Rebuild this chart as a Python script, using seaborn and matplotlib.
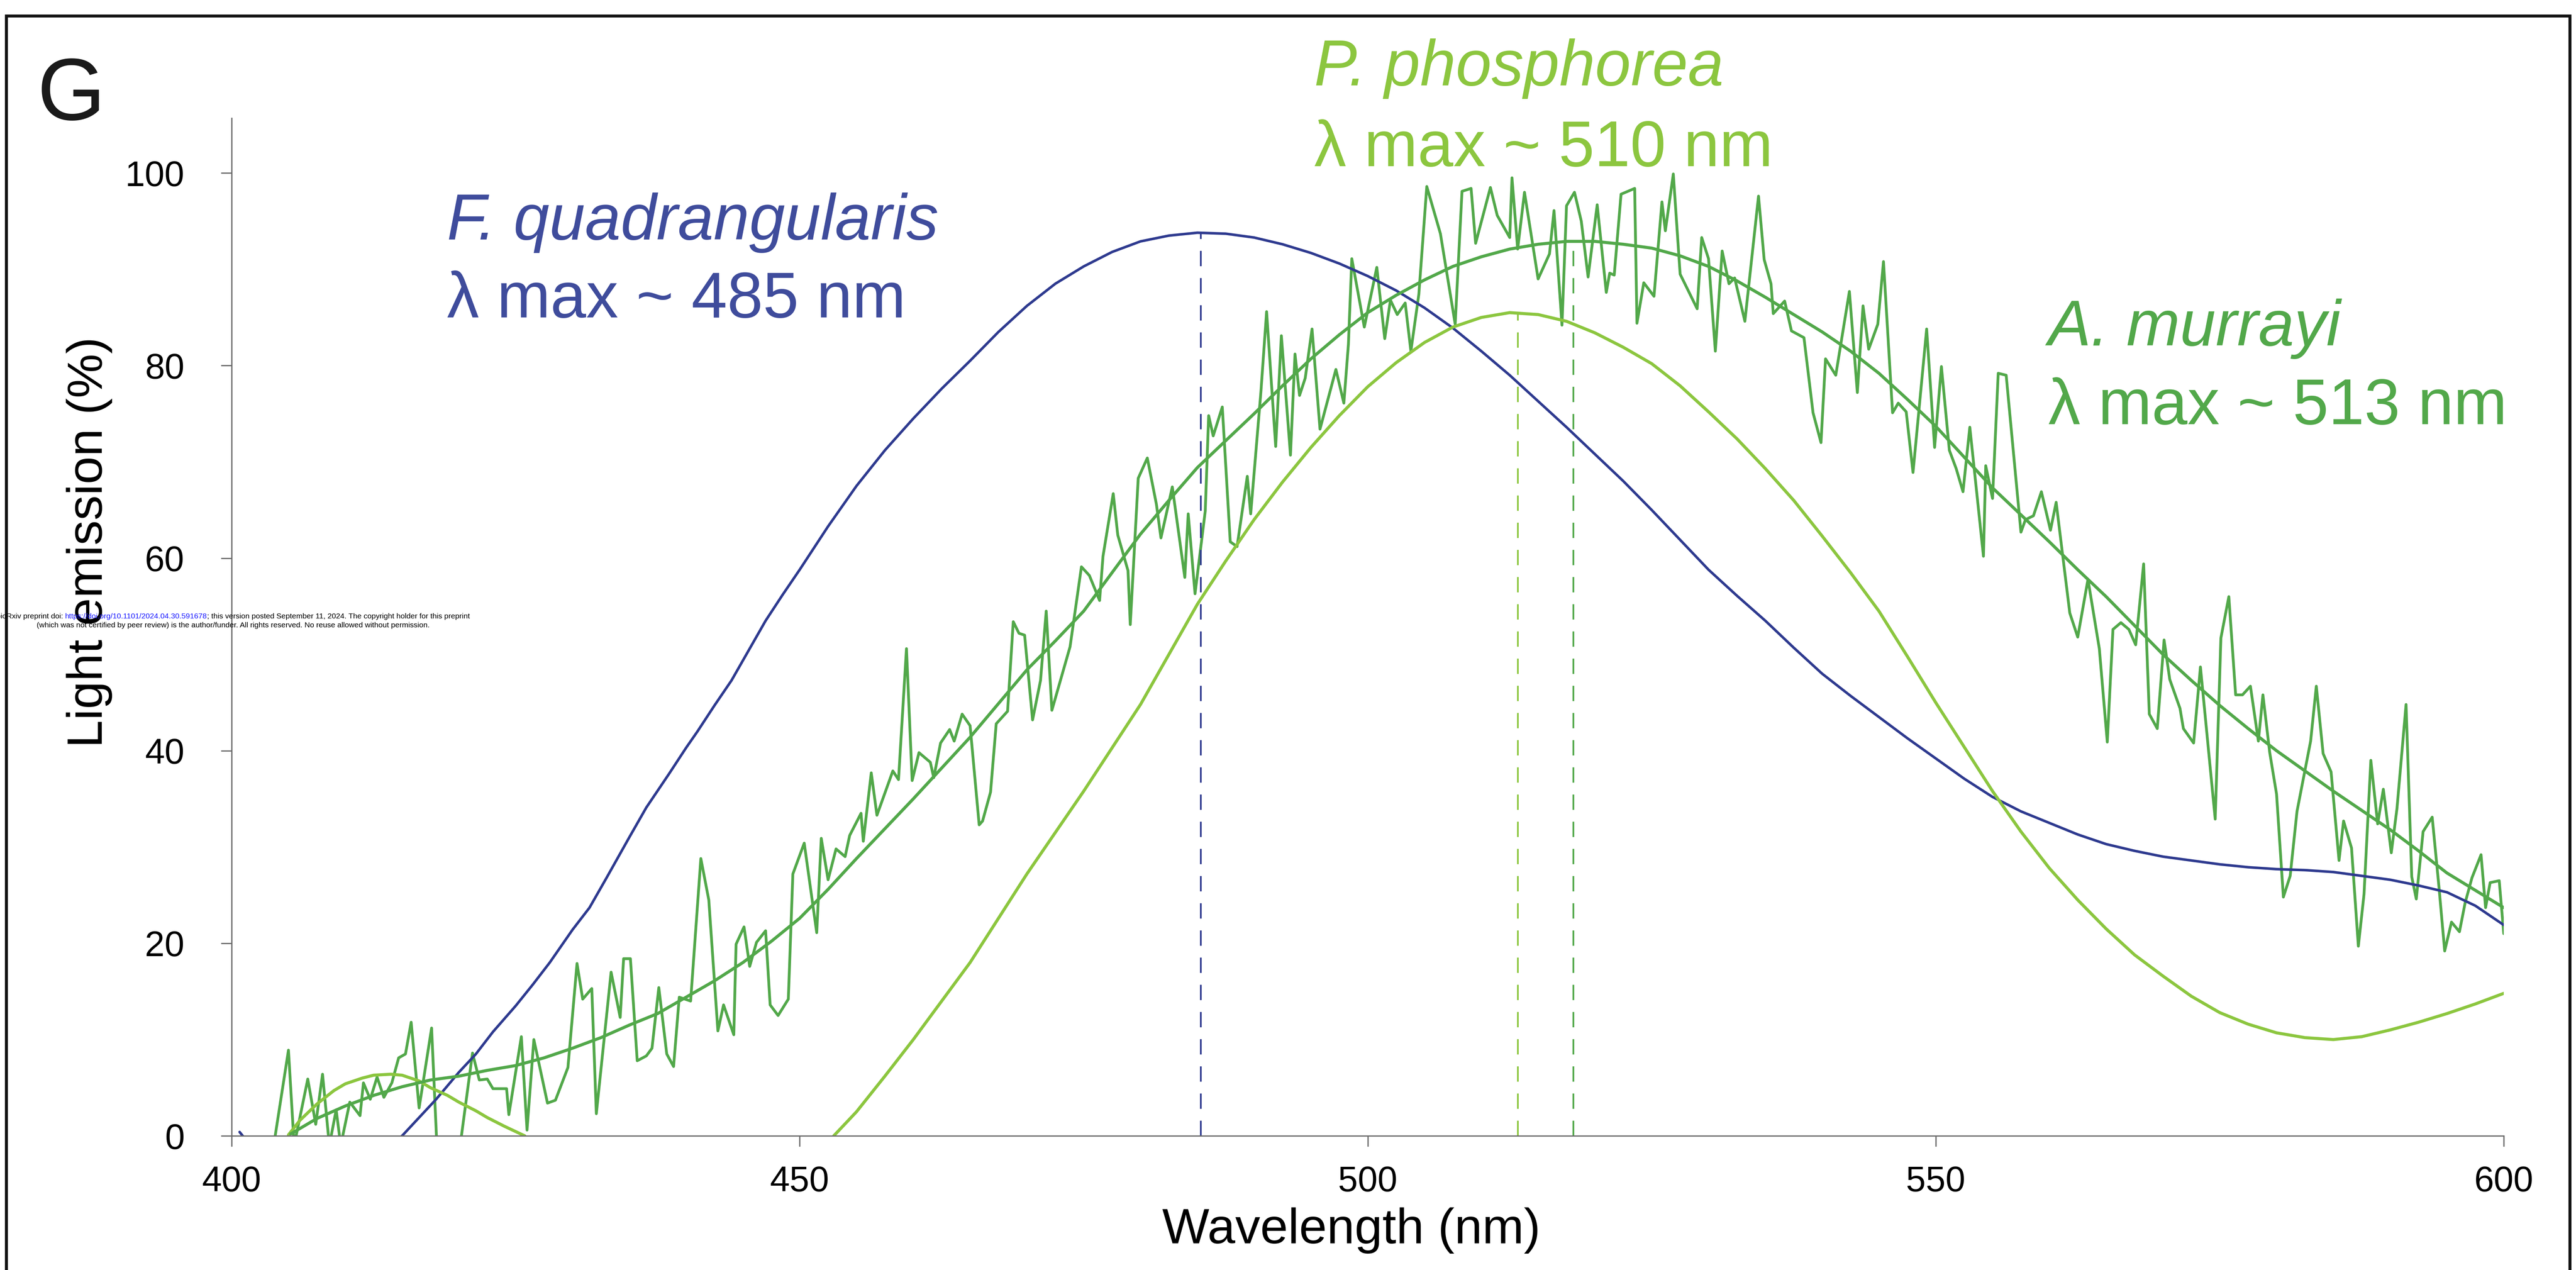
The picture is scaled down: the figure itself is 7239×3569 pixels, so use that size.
import matplotlib
matplotlib.use("Agg")
import matplotlib.pyplot as plt
from matplotlib.patches import Rectangle
import pandas as pd
import seaborn as sns

# ---------------- data ----------------
# A. murrayi: raw emission spectrum (wavelength nm, light emission %)
murrayi_nm = [
    403.7, 405.0, 405.5, 406.7, 407.4, 408.0, 408.6, 409.2, 409.6, 410.4, 411.3, 411.6,
    412.2, 412.8, 413.4, 414.1, 414.7, 415.3, 415.8, 416.5, 417.6, 418.1, 420.0, 421.2,
    421.8, 422.5, 423.0, 424.2, 424.4, 425.5, 426.0, 426.6, 427.8, 428.5, 429.6, 430.4,
    430.9, 431.7, 432.1, 433.4, 434.2, 434.5, 435.1, 435.7, 436.5, 437.0, 437.6, 438.3,
    438.9, 439.4, 440.4, 441.3, 442.0, 442.8, 443.3, 444.2, 444.4, 445.1, 445.6, 446.2,
    447.0, 447.4, 448.1, 449.0, 449.4, 450.4, 451.5, 451.9, 452.5, 453.2, 454.0, 454.4,
    455.4, 455.6, 456.3, 456.8, 458.2, 458.7, 459.4, 459.9, 460.5, 461.5, 461.8, 462.4,
    463.2, 463.6, 464.3, 465.0, 465.8, 466.1, 466.8, 467.3, 468.3, 468.8, 469.3, 469.8,
    470.5, 471.2, 471.7, 472.2, 473.8, 474.8, 475.5, 476.4, 476.7, 477.6, 478.0, 478.9,
    479.1, 479.8, 480.6, 481.4, 481.8, 482.8, 483.9, 484.2, 484.8, 485.7, 486.0, 486.4,
    487.2, 487.9, 488.5, 489.4, 489.7, 490.6, 491.1, 491.9, 492.4, 493.2, 493.6, 494.0,
    494.5, 495.1, 495.8, 497.2, 497.9, 498.3, 498.6, 499.7, 500.8, 501.5, 502.0, 502.6,
    503.3, 503.8, 504.5, 505.2, 506.4, 507.7, 508.3, 509.1, 509.5, 510.8, 511.4, 512.5,
    512.7, 513.2, 513.8, 515.0, 516.0, 516.4, 517.1, 517.5, 518.2, 518.8, 519.4, 520.2,
    521.0, 521.3, 521.7, 522.3, 523.5, 523.7, 524.3, 525.2, 525.9, 526.2, 526.9, 527.5,
    529.0, 529.4, 530.0, 530.6, 531.2, 531.8, 532.3, 533.2, 534.4, 534.9, 535.5, 535.7,
    536.7, 537.3, 538.4, 539.2, 539.9, 540.3, 541.2, 542.4, 543.1, 543.6, 544.1, 544.9,
    545.4, 546.2, 546.7, 547.4, 548.0, 549.2, 549.9, 550.5, 551.2, 551.8, 552.4, 553.0,
    554.2, 554.4, 555.0, 555.5, 556.2, 557.5, 557.9, 558.6, 559.3, 560.1, 560.6, 561.8,
    562.5, 563.4, 564.4, 565.1, 565.6, 566.3, 567.0, 567.6, 568.3, 568.8, 569.5, 570.1,
    570.6, 571.5, 571.8, 572.7, 573.3, 574.6, 575.1, 575.8, 576.4, 577.0, 577.7, 578.4,
    578.8, 579.4, 580.0, 580.6, 581.2, 581.8, 583.0, 583.5, 584.1, 584.8, 585.5, 585.9,
    586.6, 587.2, 587.7, 588.3, 588.9, 589.4, 590.1, 590.6, 591.4, 591.9, 592.3, 592.9,
    593.7, 594.3, 594.8, 595.4, 596.1, 596.6, 597.2, 598.0, 598.4, 598.8, 599.6, 600.0,
]
murrayi_raw = [
    -1.0, 8.9, -1.0, 5.9, 1.2, 6.4, -1.0, 2.7, -1.0, 3.5, 2.1, 5.5,
    3.8, 6.1, 4.0, 5.5, 8.1, 8.5, 11.8, 2.9, 11.2, -2.0, -2.0, 8.6,
    5.8, 5.9, 4.9, 4.9, 2.2, 10.3, 0.6, 10.0, 3.4, 3.7, 7.1, 17.9,
    14.2, 15.3, 2.3, 17.0, 12.3, 18.4, 18.4, 7.8, 8.3, 9.1, 15.4, 8.5,
    7.2, 14.4, 14.0, 28.8, 24.5, 10.9, 13.6, 10.5, 19.9, 21.7, 17.6, 20.1,
    21.3, 13.6, 12.5, 14.2, 27.2, 30.4, 21.1, 30.9, 26.6, 29.8, 29.0, 31.2,
    33.5, 30.6, 37.7, 33.3, 37.9, 37.0, 50.6, 36.9, 39.8, 38.8, 37.2, 40.8,
    42.2, 41.0, 43.8, 42.6, 32.3, 32.7, 35.7, 42.8, 44.1, 53.4, 52.2, 52.0,
    43.2, 47.3, 54.5, 44.2, 50.8, 59.1, 58.2, 55.6, 60.2, 66.7, 62.4, 58.7,
    53.1, 68.3, 70.4, 65.6, 62.1, 67.4, 58.0, 64.6, 56.3, 64.9, 74.8, 72.7,
    75.7, 61.7, 61.2, 68.5, 64.6, 77.3, 85.6, 71.6, 83.1, 70.7, 81.2, 76.9,
    78.7, 83.8, 73.4, 79.6, 76.1, 82.2, 91.1, 84.0, 90.2, 82.8, 86.8, 85.3,
    86.5, 81.5, 87.4, 98.6, 93.7, 84.3, 98.1, 98.4, 92.7, 98.5, 95.6, 93.3,
    99.5, 92.1, 98.0, 89.0, 91.6, 96.1, 84.2, 96.6, 98.0, 95.0, 89.2, 96.7,
    87.6, 89.6, 89.4, 97.8, 98.4, 84.4, 88.6, 87.2, 97.0, 94.0, 99.9, 89.5,
    85.9, 93.3, 91.1, 81.5, 91.9, 88.5, 89.1, 84.6, 97.6, 91.0, 88.5, 85.4,
    86.7, 83.6, 82.9, 75.1, 72.0, 80.7, 79.0, 87.7, 77.2, 86.2, 81.7, 84.3,
    90.8, 75.1, 76.1, 75.2, 68.9, 83.8, 71.5, 79.9, 71.2, 69.3, 66.9, 73.6,
    60.2, 69.6, 66.2, 79.2, 79.0, 62.7, 64.0, 64.4, 66.9, 62.9, 65.8, 54.3,
    51.8, 57.8, 50.6, 40.9, 52.6, 53.3, 52.6, 51.0, 59.4, 43.8, 42.3, 51.5,
    47.4, 44.4, 42.3, 40.8, 48.7, 32.9, 51.7, 56.0, 45.8, 45.8, 46.7, 41.0,
    45.8, 39.8, 35.5, 24.8, 27.0, 33.7, 41.0, 46.7, 39.7, 37.8, 28.6, 32.7,
    29.9, 19.7, 25.1, 39.0, 32.4, 36.0, 29.4, 34.0, 44.8, 26.9, 24.6, 31.6,
    33.1, 25.8, 19.2, 22.2, 21.2, 24.2, 26.8, 29.2, 23.7, 26.3, 26.5, 21.0,
]

# A. murrayi: fitted curve
murrayi_fit_nm = [405.2, 407.5, 410, 412.5, 415, 417.5, 420, 422.5, 425, 427.5, 430, 432.5,
                  435, 437.5, 440, 442.5, 445, 447.5, 450, 452.5, 455, 457.5, 460, 462.5,
                  465, 467.5, 470, 472.5, 475, 477.5, 480, 482.5, 485, 487.5, 490, 492.5,
                  495, 497.5, 500, 502.5, 505, 507.5, 510, 512.5, 515, 517.5, 520, 522.5,
                  525, 527.5, 530, 532.5, 535, 537.5, 540, 542.5, 545, 547.5, 550, 552.5,
                  555, 557.5, 560, 562.5, 565, 567.5, 570, 572.5, 575, 577.5, 580, 582.5,
                  585, 587.5, 590, 592.5, 595, 597.5, 600]
murrayi_fit = [0.2, 1.8, 3.1, 4.2, 5.1, 5.8, 6.2, 6.8, 7.3, 8.1, 9.1, 10.2,
               11.5, 12.7, 14.4, 16.1, 18.0, 20.2, 22.6, 25.6, 28.8, 31.9, 35.0, 38.2,
               41.4, 44.9, 48.4, 51.4, 54.5, 58.5, 62.5, 66.0, 69.4, 72.2, 75.0, 77.9,
               80.7, 83.2, 85.5, 87.3, 88.9, 90.3, 91.3, 92.1, 92.6, 92.9, 92.9, 92.6,
               92.2, 91.4, 90.3, 88.8, 87.1, 85.3, 83.5, 81.5, 79.2, 76.5, 73.7, 70.5,
               67.3, 64.5, 61.7, 58.8, 56.0, 53.0, 50.0, 47.3, 44.7, 42.3, 40.0, 37.9,
               35.8, 33.8, 31.8, 29.6, 27.3, 25.5, 23.7]

# F. quadrangularis: fitted curve
quad_fit_nm = [400.7, 403, 408, 412, 415, 416.5, 418, 420, 421.5, 423, 425, 426.5, 428, 430,
               431.5, 433, 435, 436.5, 438.5, 440, 441, 442.5, 444, 445.5, 447, 448.5, 450,
               452.5, 455, 457.5, 460, 462.5, 465, 467.5, 470, 472.5, 475, 477.5, 480,
               482.5, 485, 487.5, 490, 492.5, 495, 497.5, 500, 502.5, 505, 507.5, 510,
               512.5, 515, 517.5, 520, 522.5, 525, 527.5, 530, 532.5, 535, 537.5, 540,
               542.5, 545, 547.5, 550, 552.5, 555, 557.5, 560, 562.5, 565, 567.5, 570,
               572.5, 575, 577.5, 580, 582.5, 585, 587.5, 590, 592.5, 595, 597.5, 600]
quad_fit = [0.4, -3.0, -5.0, -3.0, 0.0, 1.9, 3.8, 6.6, 8.5, 10.8, 13.5, 15.7, 18.0, 21.4,
            23.7, 26.8, 31.0, 34.1, 37.6, 40.3, 42.0, 44.7, 47.3, 50.4, 53.5, 56.2, 58.8,
            63.3, 67.5, 71.2, 74.5, 77.6, 80.5, 83.5, 86.2, 88.5, 90.3, 91.8, 92.9,
            93.5, 93.8, 93.7, 93.3, 92.6, 91.7, 90.6, 89.3, 87.8, 86.0, 83.9, 81.5,
            79.0, 76.3, 73.6, 70.8, 68.0, 65.0, 61.9, 58.8, 56.1, 53.5, 50.7, 48.0,
            45.7, 43.5, 41.3, 39.2, 37.1, 35.2, 33.7, 32.5, 31.3, 30.3, 29.6, 29.0,
            28.6, 28.2, 27.9, 27.7, 27.6, 27.4, 27.0, 26.6, 26.0, 25.3, 23.9, 21.9]

# P. phosphorea: fitted curve (short band near 415 nm, then main band)
phos_fit_nm_short = [405, 406, 407.5, 409, 410, 411.5, 412.5, 414, 415, 416.5, 417.5, 419,
                     420, 421.5, 422.5, 424, 425.8]
phos_fit_short = [0.1, 1.6, 3.3, 4.7, 5.4, 6.0, 6.3, 6.4, 6.3, 5.7, 5.0, 4.2,
                  3.5, 2.6, 1.9, 1.0, 0.0]
phos_fit_nm_main = [453, 455, 457.5, 460, 462.5, 465, 467.5, 470, 472.5, 475, 477.5, 480,
                    482.5, 485, 487.5, 490, 492.5, 495, 497.5, 500, 502.5, 505, 507.5, 510,
                    512.5, 515, 517.5, 520, 522.5, 525, 527.5, 530, 532.5, 535, 537.5, 540,
                    542.5, 545, 547.5, 550, 552.5, 555, 557.5, 560, 562.5, 565, 567.5, 570,
                    572.5, 575, 577.5, 580, 582.5, 585, 587.5, 590, 592.5, 595, 597.5, 600]
phos_fit_main = [0.0, 2.5, 6.2, 10.0, 14.0, 18.0, 22.6, 27.2, 31.5, 35.8, 40.3, 44.8,
                 50.0, 55.2, 59.7, 64.0, 67.9, 71.5, 74.8, 77.8, 80.3, 82.4, 84.0, 85.0,
                 85.5, 85.3, 84.6, 83.4, 81.9, 80.2, 77.9, 75.2, 72.4, 69.3, 66.0, 62.3,
                 58.5, 54.5, 49.8, 45.0, 40.4, 35.8, 31.6, 27.8, 24.5, 21.5, 18.8, 16.6,
                 14.5, 12.8, 11.6, 10.7, 10.2, 10.0, 10.3, 11.0, 11.8, 12.7, 13.7, 14.8]

# wavelength of each fitted maximum (dashed markers)
quad_peak_nm = 485.3
phos_peak_nm = 513.2
murrayi_peak_nm = 518.1

x_ticks = [400, 450, 500, 550, 600]
y_ticks = [0, 20, 40, 60, 80, 100]

# ---------------- style ----------------
BLUE = "#2E3A8F"
BLUE_TXT = "#3F4C9C"
LIME = "#8CC63F"
GREEN = "#52A84A"
AXIS_GREY = "#6A6A6A"

sns.set_style("ticks")
plt.rcParams["font.family"] = ["Liberation Sans", "DejaVu Sans"]
plt.rcParams["lines.solid_capstyle"] = "round"
plt.rcParams["lines.solid_joinstyle"] = "round"

W, H, DPI = 7239, 3569, 100
fig = plt.figure(figsize=(W / DPI, H / DPI), dpi=DPI)
fig.patch.set_facecolor("white")

# plot area in pixel bounds
x0_px, x1_px, y0_px, y1_px = 651, 7036, 3192, 332
ax = fig.add_axes([x0_px / W, 1 - y0_px / H, (x1_px - x0_px) / W, (y0_px - y1_px) / H])
ax.set_facecolor("white")

raw_df = pd.DataFrame({"nm": murrayi_nm, "emission": murrayi_raw})
murrayi_df = pd.DataFrame({"nm": murrayi_fit_nm, "emission": murrayi_fit})
quad_df = pd.DataFrame({"nm": quad_fit_nm, "emission": quad_fit})
phos_short_df = pd.DataFrame({"nm": phos_fit_nm_short, "emission": phos_fit_short})
phos_main_df = pd.DataFrame({"nm": phos_fit_nm_main, "emission": phos_fit_main})

common = dict(x="nm", y="emission", ax=ax, estimator=None, sort=False, legend=False)
sns.lineplot(data=raw_df, color=GREEN, linewidth=5.6, **common)
sns.lineplot(data=quad_df, color=BLUE, linewidth=5.2, **common)
sns.lineplot(data=phos_short_df, color=LIME, linewidth=6.2, **common)
sns.lineplot(data=phos_main_df, color=LIME, linewidth=6.2, **common)
sns.lineplot(data=murrayi_df, color=GREEN, linewidth=6.2, **common)

# dashed markers at each fitted maximum
dash_lw = 3.4
dash = (0, (31 / dash_lw, 24 / dash_lw))
ax.plot([quad_peak_nm, quad_peak_nm], [0, max(quad_fit)], color=BLUE, lw=dash_lw, linestyle=dash)
ax.plot([phos_peak_nm, phos_peak_nm], [0, max(phos_fit_main)], color=LIME, lw=dash_lw, linestyle=dash)
ax.plot([murrayi_peak_nm, murrayi_peak_nm], [0, max(murrayi_fit)], color=GREEN, lw=dash_lw, linestyle=dash)

ax.set_xlim(400, 600)
ax.set_ylim(0, 105.7)
ax.set_xticks(x_ticks)
ax.set_yticks(y_ticks)
ax.set_xticklabels([str(v) for v in x_ticks])
ax.set_yticklabels([str(v) for v in y_ticks])

for side in ("top", "right"):
    ax.spines[side].set_visible(False)
for side in ("left", "bottom"):
    ax.spines[side].set_color(AXIS_GREY)
    ax.spines[side].set_linewidth(2.5)

ax.tick_params(axis="both", direction="out", length=21.5, width=2.5, color=AXIS_GREY,
               labelsize=72, labelcolor="black")
ax.tick_params(axis="y", pad=74)
ax.tick_params(axis="x", pad=38)

ax.set_xlabel("Wavelength (nm)", fontsize=101, color="black")
ax.set_ylabel("Light emission (%)", fontsize=101, color="black")
ax.xaxis.set_label_coords((3797 - x0_px) / (x1_px - x0_px), (y0_px - 3458) / (y0_px - y1_px))
ax.xaxis.label.set_va("center")
ax.yaxis.set_label_coords((251 - x0_px) / (x1_px - x0_px), (y0_px - 1524) / (y0_px - y1_px))
ax.yaxis.label.set_va("center")
ax.yaxis.label.set_ha("center")

# species annotations
ann = 130
ax.text(418.95, 93.1, "F. quadrangularis", fontsize=ann, style="italic", color=BLUE_TXT, va="baseline")
ax.text(418.95, 85.0, "λ max ~ 485 nm", fontsize=ann, color=BLUE_TXT, va="baseline")
ax.text(495.3, 109.1, "P. phosphorea", fontsize=ann, style="italic", color=LIME, va="baseline", clip_on=False)
ax.text(495.3, 100.7, "λ max ~ 510 nm", fontsize=ann, color=LIME, va="baseline")
ax.text(559.9, 82.1, "A. murrayi", fontsize=ann, style="italic", color=GREEN, va="baseline")
ax.text(559.9, 73.9, "λ max ~ 513 nm", fontsize=ann, color=GREEN, va="baseline")

# panel letter and frame
fig.text(105 / W, 1 - 337 / H, "G", fontsize=177, color="#1a1a1a", va="baseline", ha="left")
fig.add_artist(Rectangle((18 / W, -0.2), (7222 - 18) / W, 1.2 - 45 / H,
                         transform=fig.transFigure, fill=False, edgecolor="#111111",
                         linewidth=6, clip_on=False))

# preprint notice
renderer = fig.canvas.get_renderer()
line1 = [("bioRxiv preprint doi: ", "black"),
         ("https://doi.org/10.1101/2024.04.30.591678", "#1a1aff"),
         ("; this version posted September 11, 2024. The copyright holder for this preprint", "black")]
line2 = "(which was not certified by peer review) is the author/funder. All rights reserved. No reuse allowed without permission."

probe = fig.text(0, 0, line2, fontsize=10)
w10 = probe.get_window_extent(renderer).width
probe.remove()
fs_note = 10 * 1109 / w10

cx = 655
fig.text(cx / W, 1 - 1758 / H, line2, fontsize=fs_note, color="black", ha="center", va="center")

probe = fig.text(0, 0, "".join(p for p, _ in line1), fontsize=fs_note)
total_w = probe.get_window_extent(renderer).width
probe.remove()
x_cur = cx - total_w / 2
for part, col in line1:
    t = fig.text(x_cur / W, 1 - 1733 / H, part, fontsize=fs_note, color=col, ha="left", va="center")
    x_cur += t.get_window_extent(renderer).width

fig.savefig("out.png", dpi=DPI, facecolor="white")
